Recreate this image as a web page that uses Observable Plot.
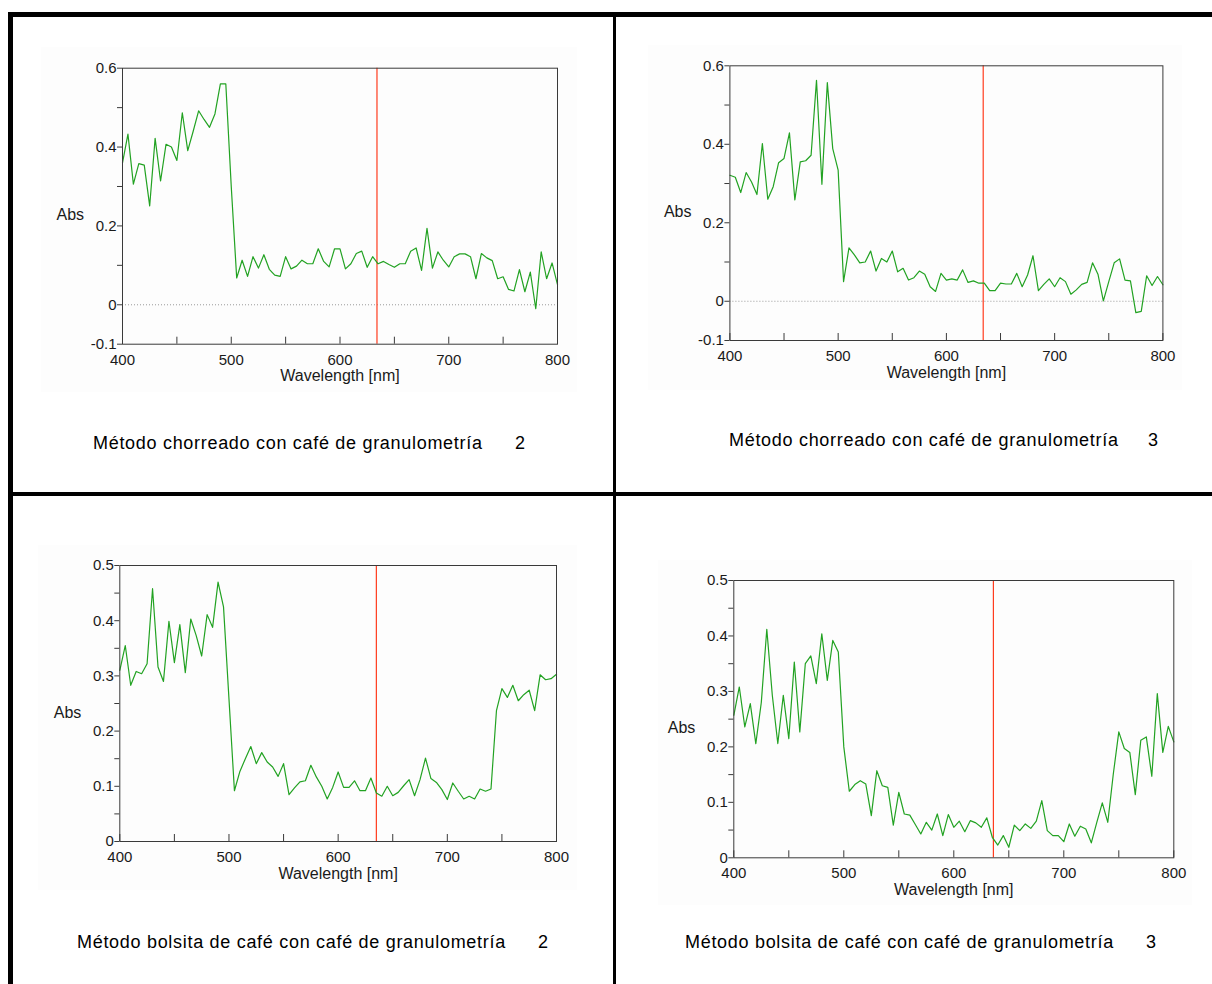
<!DOCTYPE html>
<html><head><meta charset="utf-8">
<script src="https://cdn.jsdelivr.net/npm/d3@7"></script>
<script src="https://cdn.jsdelivr.net/npm/@observablehq/plot@0.6"></script>
<style>
html,body{margin:0;padding:0;background:#fff;}
#page{position:relative;width:1212px;height:984px;overflow:hidden;font-family:"Liberation Sans",Arial,sans-serif;}
.bar{position:absolute;background:#000;}
.panel{position:absolute;}
.cap{position:absolute;font-size:18px;line-height:20px;color:#000;white-space:nowrap;letter-spacing:0.7px;}
</style></head><body><div id="page"></div>
<script>
// ---- data ----
const wavelengths = [400,405,410,415,420,425,430,435,440,445,450,455,460,465,470,475,480,485,490,495,
  500,505,510,515,520,525,530,535,540,545,550,555,560,565,570,575,580,585,590,595,
  600,605,610,615,620,625,630,635,640,645,650,655,660,665,670,675,680,685,690,695,
  700,705,710,715,720,725,730,735,740,745,750,755,760,765,770,775,780,785,790,795,800];

const absChorreado2 = [0.36,0.433,0.306,0.358,0.354,0.251,0.422,0.314,0.407,0.40,0.366,0.487,0.391,0.44,0.492,0.47,0.45,0.484,0.56,0.56,
  0.30,0.068,0.113,0.072,0.122,0.093,0.127,0.09,0.075,0.072,0.122,0.091,0.098,0.113,0.104,0.104,0.142,0.11,0.096,0.142,
  0.142,0.091,0.104,0.13,0.136,0.095,0.122,0.104,0.11,0.102,0.095,0.104,0.104,0.136,0.144,0.087,0.194,0.093,0.134,0.113,
  0.096,0.122,0.129,0.129,0.122,0.066,0.13,0.119,0.112,0.066,0.071,0.039,0.035,0.089,0.033,0.083,-0.01,0.134,0.066,0.106,0.051];

const absChorreado3 = [0.321,0.316,0.277,0.328,0.304,0.272,0.402,0.26,0.292,0.353,0.364,0.429,0.258,0.355,0.358,0.372,0.563,0.298,0.557,0.389,
  0.334,0.05,0.136,0.118,0.098,0.1,0.128,0.077,0.109,0.1,0.128,0.075,0.084,0.054,0.06,0.077,0.069,0.037,0.025,0.071,
  0.054,0.057,0.054,0.08,0.048,0.052,0.046,0.046,0.027,0.027,0.046,0.044,0.044,0.071,0.037,0.067,0.116,0.027,0.043,0.057,
  0.037,0.06,0.05,0.018,0.029,0.043,0.048,0.098,0.069,0.001,0.05,0.098,0.108,0.054,0.052,-0.029,-0.026,0.065,0.04,0.063,0.042];

const absBolsita2 = [0.31,0.355,0.283,0.308,0.304,0.322,0.458,0.316,0.29,0.399,0.324,0.393,0.306,0.403,0.373,0.336,0.411,0.388,0.47,0.425,
  0.258,0.092,0.127,0.15,0.172,0.141,0.161,0.144,0.135,0.118,0.141,0.085,0.097,0.108,0.11,0.138,0.117,0.1,0.077,0.098,
  0.126,0.098,0.098,0.11,0.092,0.092,0.115,0.088,0.082,0.1,0.083,0.089,0.101,0.112,0.083,0.112,0.151,0.114,0.107,0.094,
  0.076,0.106,0.091,0.077,0.082,0.077,0.095,0.091,0.095,0.237,0.277,0.261,0.283,0.255,0.266,0.274,0.237,0.302,0.293,0.295,0.303];

const absBolsita3 = [0.257,0.308,0.236,0.278,0.206,0.28,0.412,0.293,0.206,0.293,0.215,0.353,0.227,0.35,0.364,0.314,0.404,0.32,0.392,0.371,
  0.2,0.12,0.132,0.139,0.133,0.076,0.157,0.13,0.127,0.059,0.118,0.079,0.077,0.06,0.043,0.064,0.05,0.079,0.04,0.078,
  0.055,0.066,0.047,0.067,0.063,0.055,0.072,0.037,0.023,0.04,0.019,0.059,0.049,0.061,0.053,0.066,0.103,0.049,0.04,0.04,
  0.029,0.061,0.039,0.057,0.052,0.027,0.064,0.099,0.064,0.151,0.227,0.197,0.19,0.114,0.212,0.218,0.147,0.296,0.19,0.237,0.209];

const markerWavelengths = [634, 634, 635, 636];

const xTicks = [400,450,500,550,600,650,700,750,800];
const xLabels = [400,500,600,700,800];
const yTicksTop = [-0.1,0,0.1,0.2,0.3,0.4,0.5,0.6];
const yLabelsTop = [-0.1,0,0.2,0.4,0.6];
const yTicksBottom = [0,0.05,0.1,0.15,0.2,0.25,0.3,0.35,0.4,0.45,0.5];
const yLabelsBottom = [0,0.1,0.2,0.3,0.4,0.5];

const captionTexts = ["Método chorreado con café de granulometría","Método chorreado con café de granulometría",
  "Método bolsita de café con café de granulometría","Método bolsita de café con café de granulometría"];
const captionNumbers = ["2","3","2","3"];

// ---- layout ----
const page = document.getElementById("page");
function bar(l,t,w,h){const d=document.createElement("div");d.className="bar";Object.assign(d.style,{left:l+"px",top:t+"px",width:w+"px",height:h+"px"});page.appendChild(d);}
bar(8,12,1204,5);
bar(8,12,5,972);
bar(613,12,3,972);
bar(8,492,1204,4);

const panels = [
  {values:absChorreado2, red:markerWavelengths[0], top:true,  left:41,  y0:47,  width:536, height:345, ml:81,   mr:20,   mt:20.7, mb:48.3},
  {values:absChorreado3, red:markerWavelengths[1], top:true,  left:648, y0:45,  width:534, height:345, ml:81.4, mr:19.6, mt:20.3, mb:50},
  {values:absBolsita2,   red:markerWavelengths[2], top:false, left:38,  y0:545, width:539, height:345, ml:81.3, mr:21,   mt:20,   mb:49},
  {values:absBolsita3,   red:markerWavelengths[3], top:false, left:658, y0:560, width:534, height:345, ml:75.3, mr:18.7, mt:20,   mb:47.7}
];

const fmt = d => d === 0 ? "0" : d.toFixed(1);
const ink = "#3a3a3a";

panels.forEach(p => {
  const plotH = p.height - p.mt - p.mb;
  const data = wavelengths.map((w,i)=>({w, a:p.values[i]}));
  const yTicks = p.top ? yTicksTop : yTicksBottom;
  const yLabels = p.top ? yLabelsTop : yLabelsBottom;
  const marks = [];
  if (p.top) marks.push(Plot.ruleY([0], {stroke:"#9a9a9a", strokeDasharray:"1,2"}));
  marks.push(
    Plot.ruleX(xTicks, {x:d=>d, insetTop: plotH-7, stroke:ink}),
    Plot.axisX(xLabels, {tickSize:0, tickPadding:10, tickFormat:d=>String(d), fontSize:15, label:null}),
    Plot.axisY(yTicks, {tickSize:5, tickPadding:1, tickFormat:d=> yLabels.includes(d) ? fmt(d) : "", fontSize:15, label:null, stroke:ink}),
    Plot.ruleX([p.red], {x:d=>d, stroke:"#ff3c1e", strokeWidth:1.2}),
    Plot.line(data, {x:"w", y:"a", stroke:"#22a222", strokeWidth:1.2}),
    Plot.frame({stroke:ink}),
    Plot.text(["Abs"], {text:d=>d, frameAnchor:"left", dx:-66, dy:9, textAnchor:"start", fontSize:16}),
    Plot.text(["Wavelength [nm]"], {text:d=>d, frameAnchor:"bottom", dy:37, fontSize:16})
  );
  const svg = Plot.plot({
    width:p.width, height:p.height,
    marginLeft:p.ml, marginRight:p.mr, marginTop:p.mt, marginBottom:p.mb,
    x:{domain:[400,800], label:null},
    y:{domain: p.top ? [-0.1,0.6] : [0,0.5], label:null},
    style:{background:"#fdfdfd", fontFamily:"Liberation Sans, Arial, sans-serif", color:"#1a1a1a", overflow:"visible"},
    marks
  });
  const wrap = document.createElement("div");
  wrap.className = "panel";
  wrap.style.left = p.left + "px";
  wrap.style.top = p.y0 + "px";
  wrap.appendChild(svg);
  page.appendChild(wrap);
});

const capPos = [
  {x:93, n:515, y:443},
  {x:729, n:1148, y:440},
  {x:77, n:538, y:942},
  {x:685, n:1146, y:942}
];
capPos.forEach((c,i)=>{
  const t=document.createElement("div");t.className="cap";t.textContent=captionTexts[i];
  t.style.left=c.x+"px";t.style.top=(c.y-10)+"px";page.appendChild(t);
  const n=document.createElement("div");n.className="cap";n.textContent=captionNumbers[i];
  n.style.left=c.n+"px";n.style.top=(c.y-10)+"px";page.appendChild(n);
});
</script></body></html>
